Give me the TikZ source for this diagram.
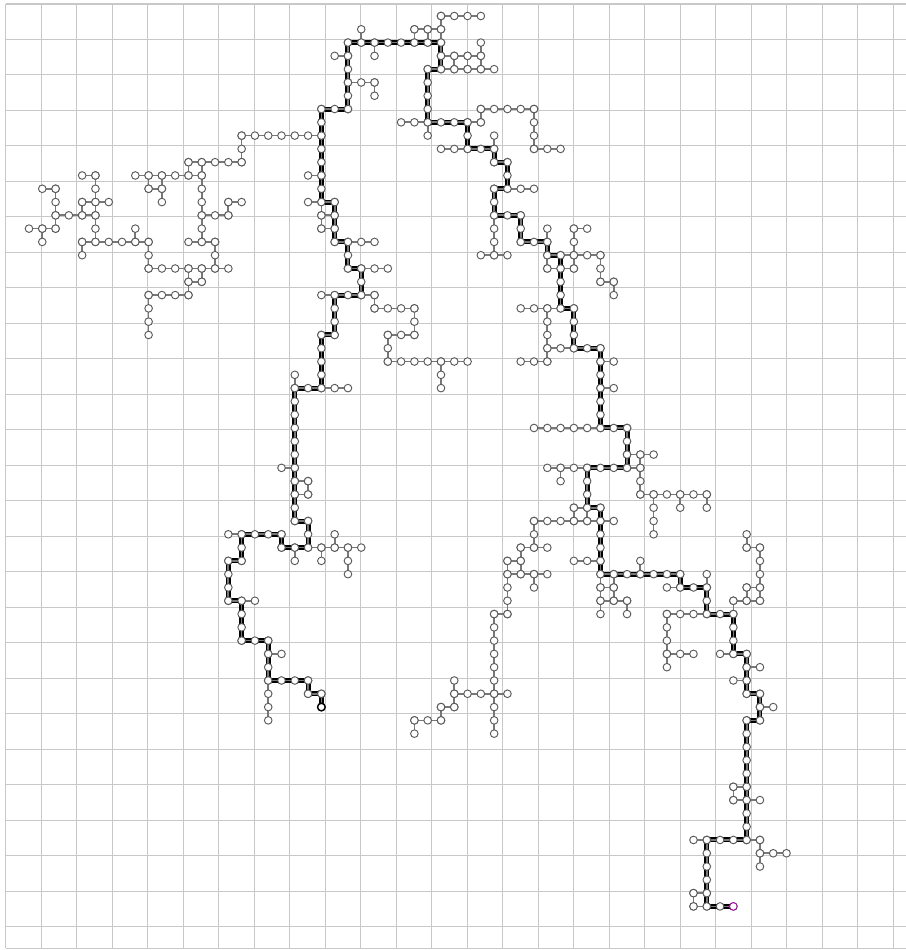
\documentclass[tikz,border=0pt]{standalone}
\usetikzlibrary{backgrounds}
\definecolor{gridgray}{RGB}{200,200,200}
\definecolor{edgegray}{RGB}{120,120,120}
\definecolor{rimgray}{RGB}{90,90,90}
\definecolor{goalpink}{RGB}{170,0,170}
\def\hruns{9/16/22,11/12/16,12/4/5,12/8/13,13/1/2,13/9/10,14/4/6,14/15/16,15/2/5,15/13/15,16/0/2,17/4/9,17/12/14,19/9/15,20/12/13,21/9/12,%
0/31/34,1/29/31,2/24/31,3/23/24,3/31/34,4/30/35,5/24/26,7/22/24,7/34/38,8/28/34,10/31/35,10/38/40,11/35/36,12/21/22,13/35/38,14/21/23,15/22/23,15/35/37,16/22/23,16/41/42,17/23/26,17/37/39,18/34/36,18/39/43,19/24/27,19/39/41,20/43/44,21/22/26,22/26/29,22/37/41,%
24/22/23,24/27/29,25/39/43,26/27/33,26/37/39,26/43/44,28/20/24,28/43/44,31/38/45,33/45/47,34/19/20,34/39/46,35/20/21,36/20/21,36/46/51,37/41/43,38/20/21,38/38/44,40/19/25,40/37/39,40/54/55,41/36/37,41/41/43,42/36/39,42/43/49,43/43/44,43/48/51,43/54/55,44/43/45,44/53/55,45/35/36,45/48/53,%
39/15/19,41/15/16,44/15/17,47/16/18,48/18/19,50/18/21,51/21/22,51/32/36,52/31/32,53/29/31,48/48/50,48/52/54,49/54/55,50/53/54,51/54/55,52/55/56,53/54/55,58/53/54,59/53/55,62/50/55,63/55/57,66/50/51,67/50/53}
\def\vruns{16/9/11,12/11/12,13/11/17,9/12/13,10/12/14,5/12/17,4/14/15,2/13/16,1/16/17,8/16/17,4/17/18,9/17/19,15/14/15,14/17/19,12/19/21,13/19/20,9/21/24,%
31/0/4,25/1/2,29/1/2,30/1/2,26/2/3,34/2/4,32/3/4,33/3/4,24/2/7,26/5/6,30/4/9,22/7/16,34/7/8,38/7/10,33/8/10,35/9/11,36/11/13,35/13/18,37/15/17,39/16/19,41/16/19,23/14/17,24/17/19,25/19/21,40/18/22,43/18/20,44/20/21,26/21/22,29/22/24,23/21/24,41/22/25,39/22/26,%
22/24/28,20/27/38,21/35/36,21/38/40,20/40/41,22/40/41,23/39/40,24/40/42,27/24/26,31/26/28,43/25/31,45/31/34,46/33/36,47/36/39,49/36/37,51/36/37,40/34/35,42/34/38,41/37/38,43/37/45,44/42/44,45/44/45,38/38/40,37/40/42,36/41/45,35/45/54,38/42/43,46/41/42,49/42/43,51/42/45,48/45/49,53/44/48,54/39/40,54/43/44,55/40/44,%
16/39/41,19/39/40,15/41/44,16/44/47,18/47/53,21/50/51,22/51/52,32/50/52,31/52/53,29/53/54,54/48/51,55/51/53,54/53/62,53/58/59,55/62/64,51/62/67,50/66/67}
\def\route{22-51,21-51,21-50,18-50,18-47,16-47,16-44,15-44,15-41,16-41,16-39,19-39,19-40,21-40,21-38,20-38,20-28,22-28,22-24,23-24,23-21,25-21,25-19,24-19,24-17,23-17,23-14,22-14,22-7,24-7,24-2,31-2,31-4,30-4,30-8,33-8,33-10,35-10,35-11,36-11,36-13,35-13,35-15,37-15,37-17,39-17,39-18,40-18,40-22,41-22,41-25,43-25,43-31,45-31,45-34,42-34,42-37,43-37,43-42,49-42,49-43,51-43,51-45,53-45,53-48,54-48,54-51,55-51,55-53,54-53,54-62,51-62,51-67,53-67}

\begin{document}
\begin{tikzpicture}[x=0.3cm,y=-0.3cm,
    gridline/.style={gridgray,line width=0.65pt},
    tree/.style={edgegray,line width=1.1pt},
    route/.style={black,line width=1.05pt,double=edgegray,double distance=1.1pt},
    vtx/.style={circle,draw=rimgray,fill=white,line width=0.6pt,inner sep=0pt,minimum size=4.9pt}]
\useasboundingbox (-2.182,-1.204) rectangle (65.99,70.28);
\foreach \j/\a/\b in \hruns {\foreach \i in {\a,...,\b} \node[vtx] (n\i-\j) at (\i,\j) {};}
\foreach \i/\a/\b in \vruns {\foreach \j in {\a,...,\b} \node[vtx] (n\i-\j) at (\i,\j) {};}
\node[vtx,draw=black,line width=0.9pt] (start) at (n22-52) {};
\node[vtx,draw=goalpink] (goal) at (n53-67) {};
\begin{pgfonlayer}{background}
\foreach \a in {0,...,25} \draw[gridline] ({-1.731+2.671*\a},-0.903) -- ({-1.731+2.671*\a},70.13);
\foreach \b in {0,...,26} \draw[gridline] (-1.731,{-0.903+2.671*\b}) -- (65.99,{-0.903+2.671*\b});
\draw[gridline] (-1.731,70.13) -- (65.99,70.13);
\foreach \j/\a/\b in \hruns \draw[tree] (n\a-\j.center) -- (n\b-\j.center);
\foreach \i/\a/\b in \vruns \draw[tree] (n\i-\a.center) -- (n\i-\b.center);
\draw[route] (n22-52.center) \foreach \p in \route {-- (n\p.center)};
\end{pgfonlayer}
\end{tikzpicture}
\end{document}
